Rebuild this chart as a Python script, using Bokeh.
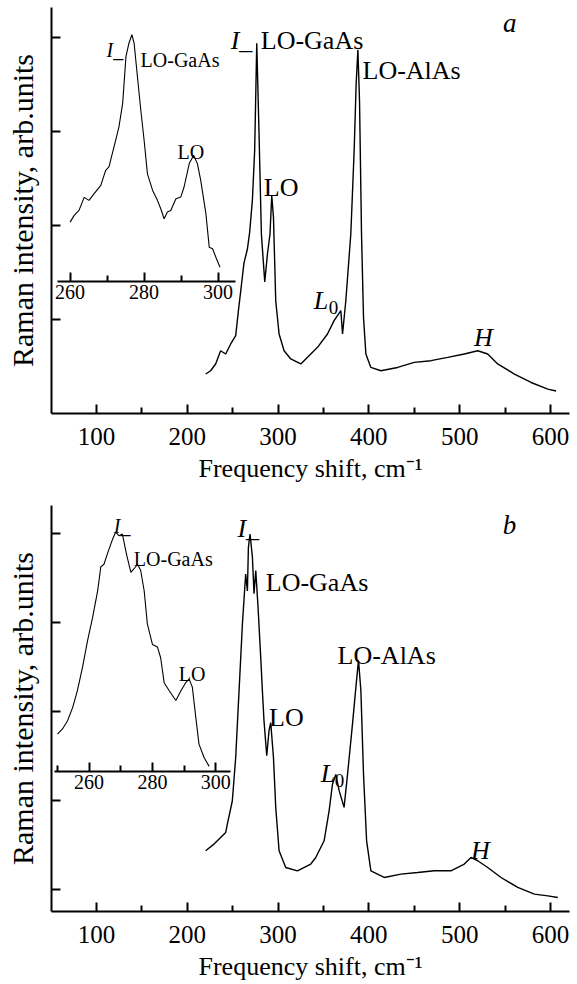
from bokeh.plotting import figure
from bokeh.models import Range1d, LinearAxis, FixedTicker, Label
from bokeh.layouts import column
from bokeh.embed import file_html
from bokeh.resources import INLINE

FONT = "Liberation Serif"

# ---------------- data ----------------
x_major = [100, 200, 300, 400, 500, 600]
x_minor = [150, 250, 350, 450, 550]
inset_major = [260, 280, 300]

# panel a, main spectrum
a_x = [220.2, 225.7, 231.2, 236.7, 242.3, 247.8, 253.3, 256.3, 258.8, 262.4, 266.2, 268.7,
       271.7, 274.2, 276.5, 279.0, 281.6, 285.3, 288.3, 291.1, 293.0, 294.9, 297.4, 301.1,
       306.6, 314.0, 325.0, 336.0, 343.4, 354.4, 361.7, 369.1, 371.0, 374.6, 380.1, 383.8,
       386.0, 387.9, 389.7, 391.9, 394.1, 396.7, 402.2, 413.2, 431.6, 450.0, 468.4, 486.8,
       505.1, 519.9, 530.9, 541.9, 560.3, 578.7, 597.1, 606.3]
a_y = [0.42, 0.455, 0.527, 0.668, 0.633, 0.74, 0.828, 1.095, 1.30, 1.60, 1.75, 1.93,
       2.27, 2.80, 3.94, 2.98, 1.91, 1.40, 1.70, 1.91, 2.32, 2.09, 1.20, 0.846,
       0.668, 0.58, 0.527, 0.633, 0.704, 0.846, 0.988, 1.095, 0.846, 1.20, 1.91, 2.80,
       3.51, 3.87, 3.33, 1.91, 1.02, 0.633, 0.49, 0.455, 0.49, 0.544, 0.562, 0.597,
       0.633, 0.668, 0.633, 0.527, 0.42, 0.33, 0.26, 0.24]

# panel a, inset
ai_x = [260.0, 261.1, 262.4, 263.8, 265.1, 266.5, 268.3, 269.6, 270.5, 272.3, 273.2, 274.2,
        275.1, 275.9, 276.7, 277.3, 278.2, 279.1, 280.0, 280.9, 282.3, 283.6, 284.5, 285.4,
        286.3, 287.2, 288.6, 289.9, 290.8, 292.2, 293.4, 294.4, 295.3, 296.7, 297.6, 298.5,
        299.4, 300.5]
ai_y = [2.036, 2.108, 2.161, 2.30, 2.268, 2.339, 2.427, 2.587, 2.623, 2.907, 3.05, 3.30,
        3.80, 3.94, 4.03, 3.94, 3.58, 3.23, 2.907, 2.55, 2.374, 2.268, 2.179, 2.072,
        2.143, 2.161, 2.286, 2.303, 2.41, 2.659, 2.747, 2.659, 2.48, 2.126, 1.77, 1.753,
        1.663, 1.557]

# panel b, main spectrum
b_x = [220.2, 229.4, 242.3, 244.1, 249.6, 253.3, 257.0, 260.7, 264.3, 266.2, 267.3, 269.1,
       271.7, 273.5, 275.4, 277.9, 280.9, 282.7, 284.5, 287.5, 290.0, 291.9, 294.9, 297.4,
       301.1, 308.4, 321.3, 336.0, 341.5, 350.7, 356.2, 359.9, 363.6, 367.2, 372.7, 376.5,
       382.0, 385.7, 388.6, 391.2, 394.1, 397.5, 402.2, 416.9, 435.3, 453.7, 472.0, 490.4,
       505.1, 512.5, 519.9, 530.9, 545.6, 564.0, 582.3, 597.1, 608.1]
b_y = [0.432, 0.507, 0.638, 0.732, 0.994, 1.48, 2.23, 2.98, 3.54, 3.35, 3.84, 3.99,
       3.73, 3.32, 3.58, 3.17, 2.60, 2.23, 1.89, 1.50, 1.78, 1.87, 1.48, 0.92,
       0.432, 0.244, 0.207, 0.283, 0.357, 0.544, 0.881, 1.18, 1.29, 1.11, 0.92, 1.29,
       1.86, 2.27, 2.57, 2.23, 1.29, 0.544, 0.207, 0.132, 0.17, 0.188, 0.207, 0.207,
       0.283, 0.357, 0.32, 0.244, 0.132, 0.02, -0.055, -0.074, -0.093]

# panel b, inset
bi_x = [250.0, 251.6, 253.2, 254.8, 256.3, 257.9, 259.5, 261.1, 262.7, 263.7, 264.7, 265.8,
        267.4, 268.4, 269.5, 270.5, 271.9, 273.2, 274.2, 275.3, 276.3, 277.4, 278.4, 280.0,
        281.6, 282.6, 283.7, 285.3, 287.4, 289.0, 290.5, 291.6, 292.6, 293.7, 294.7, 296.3,
        297.9]
bi_y = [1.743, 1.80, 1.893, 2.04, 2.23, 2.49, 2.79, 3.05, 3.35, 3.62, 3.65, 3.77,
        3.93, 4.01, 3.97, 3.99, 3.75, 3.56, 3.60, 3.65, 3.58, 3.35, 2.98, 2.75,
        2.72, 2.60, 2.32, 2.23, 2.12, 2.23, 2.32, 2.36, 2.27, 1.93, 1.63, 1.48,
        1.38]

# annotations: (text, x, y, size, style)
a_notes = [("I_", 247.8, 3.97, "26px", "italic"), ("LO-GaAs", 280.9, 3.97, "26px", "normal"),
           ("LO-AlAs", 393.0, 3.654, "26px", "normal"), ("LO", 284.2, 2.406, "26px", "normal"),
           ("L", 339.3, 1.20, "26px", "italic"), ("0", 355.9, 1.127, "19px", "normal"),
           ("H", 515.8, 0.807, "26px", "italic"), ("a", 547.8, 4.15, "27px", "italic"),
           ("I_", 111.0, 3.866, "20px", "italic"), ("LO-GaAs", 148.5, 3.76, "20px", "normal"),
           ("LO", 189.3, 2.779, "20px", "normal")]
b_notes = [("I_", 255.2, 4.05, "26px", "italic"), ("LO-GaAs", 286.4, 3.443, "26px", "normal"),
           ("LO-AlAs", 365.5, 2.623, "26px", "normal"), ("LO", 290.0, 1.926, "26px", "normal"),
           ("L", 347.0, 1.297, "26px", "italic"), ("0", 362.5, 1.22, "19px", "normal"),
           ("H", 512.5, 0.432, "26px", "italic"), ("b", 547.5, 4.095, "27px", "italic"),
           ("I_", 119.1, 4.084, "20px", "italic"), ("LO-GaAs", 141.1, 3.71, "20px", "normal"),
           ("LO", 190.7, 2.417, "20px", "normal")]


def style_axis(ax):
    ax.axis_line_width = 2
    ax.axis_line_color = "black"
    ax.major_tick_line_width = 2
    ax.minor_tick_line_width = 2
    ax.major_tick_line_color = "black"
    ax.minor_tick_line_color = "black"
    ax.major_tick_in = 9
    ax.major_tick_out = 0
    ax.minor_tick_in = 6
    ax.minor_tick_out = 0
    ax.major_label_text_font = FONT
    ax.major_label_text_color = "black"
    ax.axis_label_text_font = FONT
    ax.axis_label_text_font_style = "normal"
    ax.axis_label_text_color = "black"


def build(mx, my, ix, iy, yr, yticks, irange, ibounds, iminor, iloc, notes,
          height, top, bottom):
    p = figure(width=577, height=height, x_range=Range1d(50.4, 621), y_range=Range1d(*yr),
               output_backend="svg", toolbar_location=None,
               min_border_left=51, min_border_right=8, min_border_top=top,
               min_border_bottom=bottom)
    p.outline_line_color = None
    p.grid.visible = False
    xa = p.xaxis[0]
    ya = p.yaxis[0]
    style_axis(xa)
    style_axis(ya)
    xa.ticker = FixedTicker(ticks=x_major, minor_ticks=x_minor)
    xa.major_label_text_font_size = "25px"
    xa.major_label_standoff = 14
    xa.axis_label = "Frequency shift, cm\u207b\u00b9"
    xa.axis_label_text_font_size = "26px"
    xa.axis_label_standoff = 6
    ya.ticker = FixedTicker(ticks=yticks, minor_ticks=[])
    ya.major_label_text_font_size = "0px"
    ya.major_label_text_color = None
    ya.major_label_standoff = 0
    ya.axis_label = "Raman intensity, arb.units"
    ya.axis_label_text_font_size = "30px"
    ya.axis_label_standoff = 13

    p.extra_x_ranges = {"inset": Range1d(*irange)}
    ia = LinearAxis(x_range_name="inset", fixed_location=iloc, bounds=ibounds,
                    ticker=FixedTicker(ticks=inset_major, minor_ticks=iminor))
    style_axis(ia)
    ia.major_label_text_font_size = "20px"
    ia.major_label_standoff = 3
    p.add_layout(ia, "below")

    p.line(mx, my, line_color="black", line_width=1.4)
    p.line(ix, iy, line_color="black", line_width=1.1, x_range_name="inset")

    for t, x, y, s, st in notes:
        p.add_layout(Label(x=x, y=y, text=t, text_font=FONT, text_font_size=s,
                           text_font_style=st, text_color="black",
                           text_baseline="alphabetic", text_align="left"))
    return p


pa = build(a_x, a_y, ai_x, ai_y, (0, 4.32), [1, 2, 3, 4], (254.97, 394.97),
           (256.6, 304.8), [270, 290], 1.404, a_notes, 493, 7, 80)
pb = build(b_x, b_y, bi_x, bi_y, (-0.25, 4.31), [0, 1, 2, 3, 4], (248.13, 411.7),
           (249.0, 304.7), [250, 270, 290], 1.32, b_notes, 490, 12, 72)

layout = column(pa, pb, spacing=0)
open("out.html", "w").write(file_html(layout, INLINE))
